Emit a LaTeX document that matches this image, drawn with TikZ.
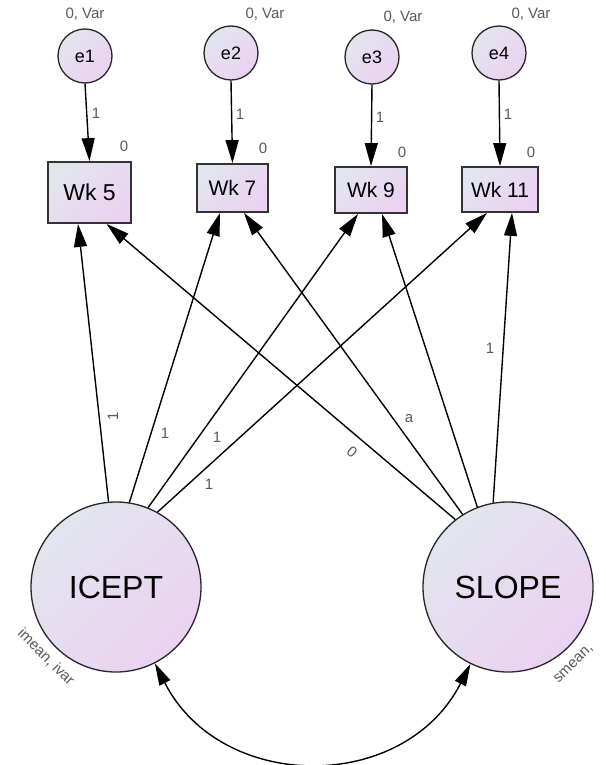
\documentclass[tikz,border=0pt]{standalone}
\usepackage{fontspec}
\setmainfont{Liberation Sans}
\usetikzlibrary{arrows.meta,shadings}
\definecolor{gtop}{HTML}{E2E5EE}
\definecolor{gbot}{HTML}{EBD2F2}
\definecolor{labc}{HTML}{5A5A5A}
\tikzset{
  grad/.style={top color=gtop, bottom color=gbot, shading angle=45},
  errc/.style={circle, draw=black!85, line width=1.3pt, grad, inner sep=0pt, minimum size=54pt,
    font=\fontsize{18}{20}\selectfont},
  latentc/.style={circle, draw=black!85, line width=1.3pt, grad, inner sep=0pt, minimum size=170pt,
    font=\fontsize{32}{36}\selectfont},
  obsbox/.style={rectangle, draw=black!80, line width=1.8pt, grad, inner sep=0pt,
    font=\fontsize{21}{24}\selectfont},
  smalllab/.style={text=labc, inner sep=0pt, font=\fontsize{15}{17}\selectfont},
  patharrow/.style={line width=1.4pt, -{Triangle[length=23pt,width=13pt]}},
  covarrow/.style={line width=1.4pt, {Triangle[length=22pt,width=12pt]}-{Triangle[length=22pt,width=12pt]}},
}
\begin{document}
\begin{tikzpicture}[x=1pt,y=-1pt]
\useasboundingbox (0,0) rectangle (605,765);
\fill[white] (0,0) rectangle (605,765);

% error terms
\node[errc] (e1) at (85,56) {e1};
\node[errc] (e2) at (231,53) {e2};
\node[errc] (e3) at (372,57) {e3};
\node[errc] (e4) at (499,53) {e4};

% observed
\node[obsbox, minimum width=83pt, minimum height=61pt, font=\fontsize{23}{26}\selectfont] (w5) at (89.5,192.5) {Wk 5};
\node[obsbox, minimum width=71pt, minimum height=48pt] (w7) at (232.5,188) {Wk 7};
\node[obsbox, minimum width=72pt, minimum height=46pt] (w9) at (371,190) {Wk 9};
\node[obsbox, minimum width=76pt, minimum height=45pt] (w11) at (500,189.5) {Wk 11};

% latent
\node[latentc] (icept) at (116,587) {ICEPT};
\node[latentc] (slope) at (508,587) {SLOPE};

% error paths
\draw[patharrow] (e1.south) -- (w5.north);
\draw[patharrow] (e2.south) -- (w7.north);
\draw[patharrow] (e3.south) -- (w9.north);
\draw[patharrow] (e4.south) -- (w11.north);

% ICEPT paths
\draw[patharrow] (icept.95) -- ([xshift=-11.5pt]w5.south);
\draw[patharrow] (icept.81) -- ([xshift=-12.5pt]w7.south);
\draw[patharrow] (icept.68) -- ([xshift=-13pt]w9.south);
\draw[patharrow] (icept.61) -- ([xshift=-13pt]w11.south);

% SLOPE paths
\draw[patharrow] (slope.128.5) -- ([xshift=17pt]w5.south);
\draw[patharrow] (slope.122.5) -- ([xshift=11.5pt]w7.south);
\draw[patharrow] (slope.111) -- ([xshift=11pt]w9.south);
\draw[patharrow] (slope.100) -- ([xshift=12pt]w11.south);

% covariance
\draw[covarrow] (icept.-63.4) to[out=-63, in=-117, looseness=1.18] (slope.-116.6);

% variance labels
\node[smalllab] (v1) at (85,14) {0, Var};
\node[smalllab] (v2) at (265,14) {0, Var};
\node[smalllab] (v3) at (403,17) {0, Var};
\node[smalllab] (v4) at (531,14) {0, Var};

% path 1 labels (errors)
\node[smalllab] (l1) at (96,113) {1};
\node[smalllab] (l2) at (240,114) {1};
\node[smalllab] (l3) at (380,117) {1};
\node[smalllab] (l4) at (508,114) {1};

% intercepts
\node[smalllab] (i1) at (124,146) {0};
\node[smalllab] (i2) at (263,148) {0};
\node[smalllab] (i3) at (402,152) {0};
\node[smalllab] (i4) at (531,152) {0};

% ICEPT loadings
\node[smalllab, rotate=90] (a1) at (113,416) {1};
\node[smalllab] (a2) at (165,433) {1};
\node[smalllab] (a3) at (217,437) {1};
\node[smalllab] (a4) at (209,484) {1};

% SLOPE loadings
\node[smalllab, rotate=-38] (b1) at (352,452) {0};
\node[smalllab] (b2) at (409,419) {a};
\node[smalllab] (b4) at (490,348) {1};

% latent mean/var labels
\node[smalllab, rotate=-45] (m1) at (46,657) {imean, ivar};
\node[smalllab, rotate=45, anchor=south west] (m2) at (560,685) {smean,};
\end{tikzpicture}
\end{document}
